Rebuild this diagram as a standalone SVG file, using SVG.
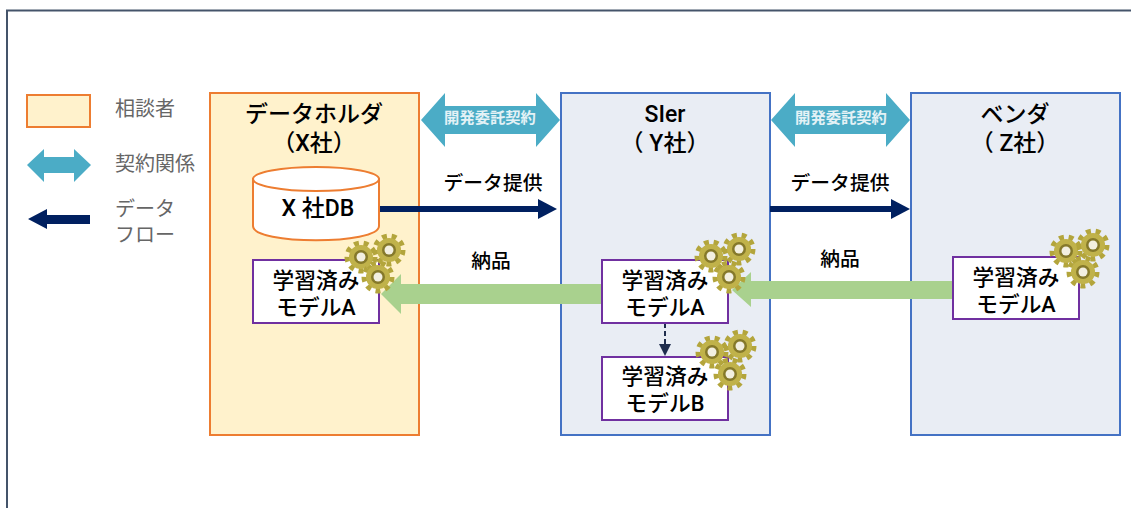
<svg xmlns="http://www.w3.org/2000/svg" width="1131" height="508" viewBox="0 0 1131 508">
<style>
text{font-family:Roboto,"Noto Sans CJK JP",sans-serif;text-anchor:middle;fill:#000}
.t{font-size:23px;font-weight:500}
.s{font-size:19.800px;font-weight:500}
.n{font-size:21.700px;font-weight:500}
.l{font-size:20px;font-weight:400;fill:#666;text-anchor:start}
.c{font-size:15.300px;font-weight:700;fill:#e4f2f6}
.m{fill:#fff;stroke:#7030a0;stroke-width:2}
.o{fill:#fff2cc;stroke:#ed7d31;stroke-width:2}
.b{fill:#e9edf4;stroke:#4472c4;stroke-width:2}
.dbl{fill:#4bacc6}
.flow{stroke:#002060;stroke-width:6;fill:none}
.head{fill:#002060}
.green{fill:#a9d18e}
</style>
<defs>
<symbol id="gear" viewBox="-17 -17 34 34" width="34" height="34" overflow="visible">
<circle r="13.500" fill="none" stroke="#b3a53c" stroke-width="6" stroke-dasharray="4.700 4.700"/>
<circle r="12" fill="#c0b24a"/>
<circle r="7" fill="#85792a"/>
<circle r="4.500" fill="#f2efe0"/>
</symbol>
</defs>
<g id="frame"><path d="M7 510 V10.500 H1131" fill="none" stroke="#44546a" stroke-width="2"/></g>
<g id="legend">
<rect class="o" x="27" y="95" width="63" height="32"/>
<text class="l" x="115" y="116">相談者</text>
<path class="dbl" d="M27 165 L44 149 V157 H74 V149 L91 165 L74 182 V173 H44 V182 Z"/>
<text class="l" x="115" y="171">契約関係</text>
<path class="head" d="M28 219 L47 209 V215 H90 V224 H47 V229 Z"/>
<text class="l"><tspan x="115" y="216">データ</tspan><tspan x="115" y="242">フロー</tspan></text>
</g>
<g id="node-x">
<rect class="o" x="210" y="93" width="209" height="342"/>
<text class="t"><tspan x="314" y="122">データホルダ</tspan><tspan x="314" y="151">（X社）</tspan></text>
</g>
<g id="node-y">
<rect class="b" x="561" y="93" width="209" height="342"/>
<text class="t"><tspan x="665" y="122">SIer</tspan><tspan x="665" y="151">（ Y社）</tspan></text>
</g>
<g id="node-z">
<rect class="b" x="911" y="93" width="209" height="342"/>
<text class="t"><tspan x="1015" y="122">ベンダ</tspan><tspan x="1015" y="151">（ Z社）</tspan></text>
</g>
<g id="node-db">
<path d="M253 179 V226 C253 245 379 245 379 226 V179 Z" fill="#fff" stroke="#ed7d31" stroke-width="2"/>
<ellipse cx="316" cy="179" rx="63" ry="12" fill="#fff" stroke="#ed7d31" stroke-width="2"/>
<text class="t" x="318" y="216">X 社DB</text>
</g>
<g id="connectors">
<path class="dbl" transform="translate(421 93)" d="M0 27 L24 0 V13 H115 V0 L139 27 L115 54 V41 H24 V54 Z"/>
<path class="dbl" transform="translate(771 93)" d="M0 27 L24 0 V13 H115 V0 L139 27 L115 54 V41 H24 V54 Z"/>
<path class="flow" d="M380 209 H540"/><path class="head" d="M538 199 L557 209 L538 219 Z"/>
<path class="flow" d="M770 209 H892"/><path class="head" d="M891 199 L910 209 L891 219 Z"/>
<path class="green" d="M601 284 H401 V274 L381 294 L401 314 V304 H601 Z"/>
<path class="green" d="M953 281 H751 V272 L732 290 L751 307 V299 H953 Z"/>
<path d="M665 323 V346" stroke="#1f2d4d" stroke-width="2" stroke-dasharray="5 3" fill="none"/>
<path d="M659 344 H671 L665 356 Z" fill="#1f2d4d"/>
</g>
<text class="c" x="490" y="123">開発委託契約</text>
<text class="c" x="841" y="123">開発委託契約</text>
<text class="s" x="493" y="190">データ提供</text>
<text class="s" x="840" y="190">データ提供</text>
<text class="s" x="491" y="268">納品</text>
<text class="s" x="840" y="266">納品</text>
<g id="model-x">
<rect class="m" x="253" y="260" width="126" height="63"/>
<text class="n"><tspan x="316" y="288">学習済み</tspan><tspan x="316" y="315">モデルA</tspan></text>
<use href="#gear" x="344" y="240"/><use href="#gear" x="372" y="233"/><use href="#gear" x="361" y="260"/>
</g>
<g id="model-y-a">
<rect class="m" x="602" y="260" width="126" height="63"/>
<text class="n"><tspan x="665" y="288">学習済み</tspan><tspan x="665" y="315">モデルA</tspan></text>
<use href="#gear" x="694" y="239"/><use href="#gear" x="722" y="232"/><use href="#gear" x="712" y="260"/>
</g>
<g id="model-y-b">
<rect class="m" x="602" y="357" width="126" height="63"/>
<text class="n"><tspan x="665" y="384">学習済み</tspan><tspan x="665" y="411">モデルB</tspan></text>
<use href="#gear" x="695" y="335"/><use href="#gear" x="723" y="329"/><use href="#gear" x="713" y="357"/>
</g>
<g id="model-z">
<rect class="m" x="953" y="257" width="126" height="62"/>
<text class="n"><tspan x="1016" y="285">学習済み</tspan><tspan x="1016" y="312">モデルA</tspan></text>
<use href="#gear" x="1049" y="234"/><use href="#gear" x="1076" y="228"/><use href="#gear" x="1066" y="255"/>
</g>
</svg>
